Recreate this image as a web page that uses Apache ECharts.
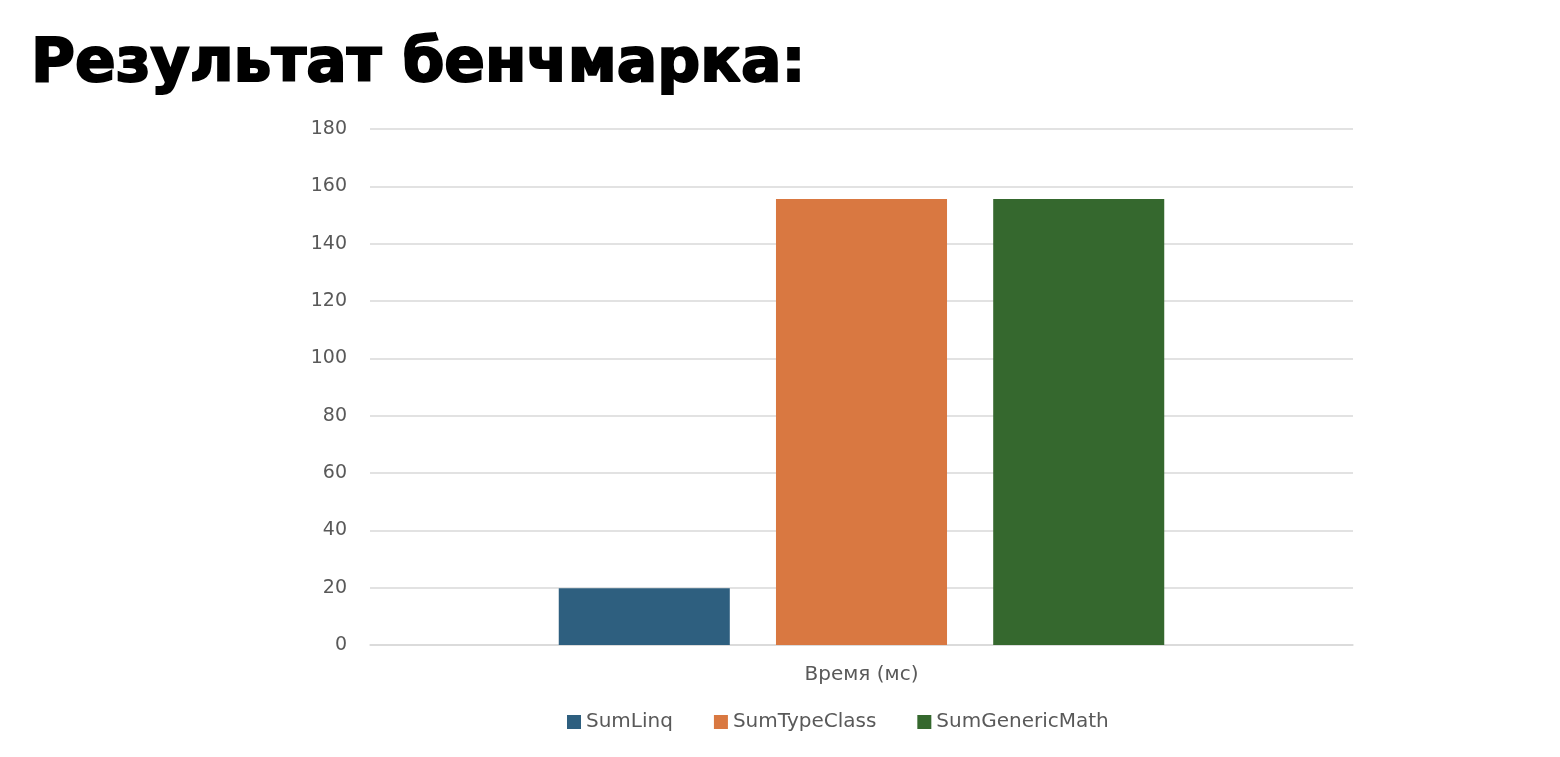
<!DOCTYPE html>
<html>
<head>
<meta charset="utf-8">
<script src="https://cdn.jsdelivr.net/npm/echarts@6/dist/echarts.min.js"></script>
<style>
html,body{margin:0;padding:0;background:#fff;}
#chart{width:1560px;height:757px;}
</style>
</head>
<body>
<div id="chart"></div>
<script>
const titleText = "Результат бенчмарка:";
const categories = ["Время (мс)"];
const seriesNames = ["SumLinq", "SumTypeClass", "SumGenericMath"];
const sumLinq = [19.8];
const sumTypeClass = [155.6];
const sumGenericMath = [155.6];
const colors = ["#2e5f7f", "#d97841", "#35682e"];
const yTicks = [0, 20, 40, 60, 80, 100, 120, 140, 160, 180];

const chart = echarts.init(document.getElementById('chart'));
const seriesData = [sumLinq, sumTypeClass, sumGenericMath];
const labelFont = "DejaVu Sans";
chart.setOption({
  animation: false,
  title: {
    text: titleText,
    left: 26,
    top: 30,
    textStyle: {
      fontFamily: "DejaVu Sans",
      fontWeight: 900,
      fontSize: 60,
      color: "#000",
      textBorderColor: "#000",
      textBorderWidth: 2
    }
  },
  grid: { left: 370, right: 207, top: 129, bottom: 112, containLabel: false },
  legend: {
    data: seriesNames,
    top: 707,
    left: 562,
    itemWidth: 14,
    itemHeight: 14,
    itemGap: 41,
    icon: 'rect',
    textStyle: { fontFamily: labelFont, fontSize: 20, color: "#595959" }
  },
  xAxis: {
    type: 'category',
    data: categories,
    axisLine: { lineStyle: { color: "#d9d9d9", width: 1.5 } },
    axisTick: { show: false },
    axisLabel: { fontFamily: labelFont, fontSize: 20, color: "#595959", margin: 20 }
  },
  yAxis: {
    type: 'value',
    min: 0,
    max: 180,
    interval: 20,
    axisLine: { show: false },
    axisTick: { show: false },
    splitLine: { lineStyle: { color: "#d9d9d9", width: 1.5 } },
    axisLabel: { fontFamily: labelFont, fontSize: 19, color: "#595959", margin: 23 }
  },
  series: seriesNames.map((n, i) => ({
    name: n,
    type: 'bar',
    data: seriesData[i],
    barWidth: '17.4%',
    barGap: '27%',
    itemStyle: { color: colors[i] }
  }))
});
</script>
</body>
</html>
